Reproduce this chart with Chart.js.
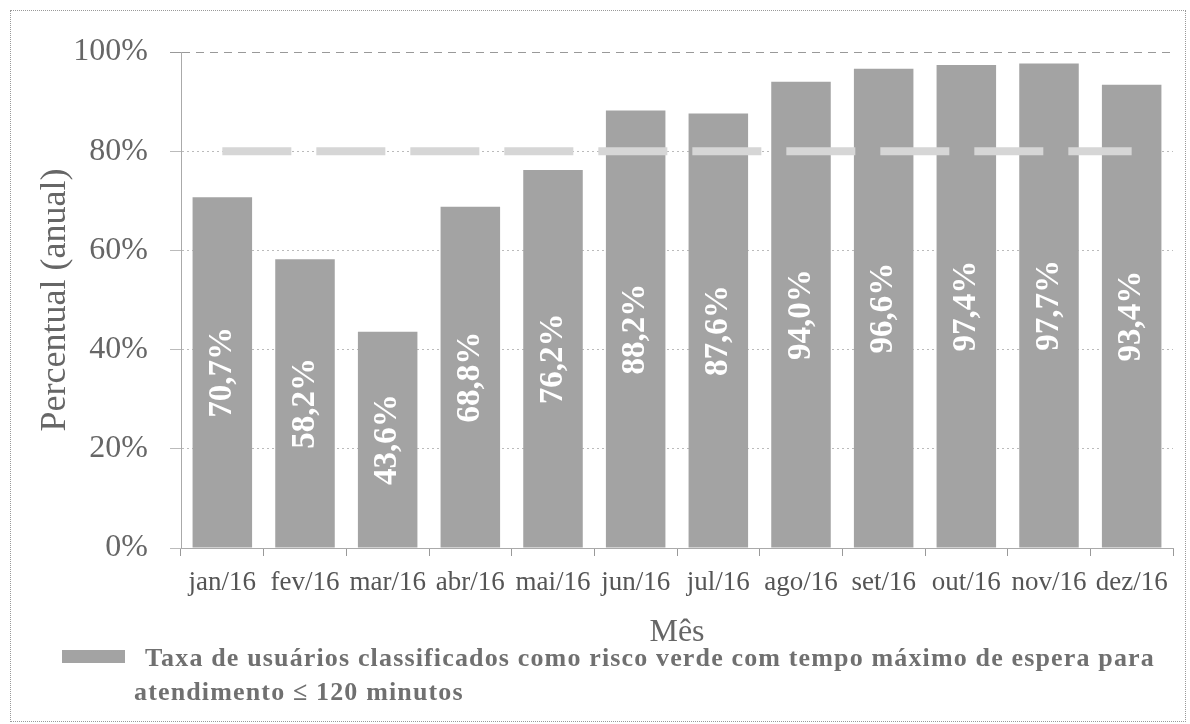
<!DOCTYPE html>
<html lang="pt-BR">
<head>
<meta charset="utf-8">
<title>Taxa de usuários classificados como risco verde</title>
<script src="https://cdn.jsdelivr.net/npm/chart.js@4/dist/chart.umd.min.js"></script>
<style>
  html, body { margin: 0; padding: 0; background: #fff; }
  #quadro { position: relative; width: 1190px; height: 724px; overflow: hidden; }
  #moldura { position: absolute; left: 10px; top: 10px; width: 1174px; height: 710px; border: 1px dotted #999; }
  #grafico { position: absolute; left: 0; top: 0; }
  #caixaLegenda { position: absolute; left: 62px; top: 650px; width: 63px; height: 13px; background: #a3a3a3; }
  #legenda { position: absolute; left: 134px; top: 641px; width: 1050px; text-indent: 11px;
    font: bold 26px "Liberation Serif", serif; line-height: 34px; color: #707070; letter-spacing: 1.15px; }
</style>
</head>
<body>
<div id="quadro">
  <div id="moldura"></div>
  <canvas id="grafico" width="1190" height="724"></canvas>
  <div id="caixaLegenda"></div>
  <div id="legenda"></div>
</div>
<script>
const meses = ["jan/16", "fev/16", "mar/16", "abr/16", "mai/16", "jun/16",
  "jul/16", "ago/16", "set/16", "out/16", "nov/16", "dez/16"];
const taxaVerde = [70.7, 58.2, 43.6, 68.8, 76.2, 88.2, 87.6, 94.0, 96.6, 97.4, 97.7, 93.4];
const meta = [80, 80, 80, 80, 80, 80, 80, 80, 80, 80, 80, 80];
const nomeSerie = "Taxa de usuários classificados como risco verde com tempo máximo de espera para atendimento ≤ 120 minutos";

const corTexto = "#666";
const fonteSerif = '"Liberation Serif", "DejaVu Serif", serif';

// legenda em html porque o texto quebra em duas linhas
const quebra = nomeSerie.indexOf("atendimento");
document.getElementById("legenda").innerHTML =
  nomeSerie.slice(0, quebra).trim() + "<br>" + nomeSerie.slice(quebra);

// rótulos girados no meio de cada barra
const rotuloBarras = {
  id: "rotuloBarras",
  afterDatasetsDraw(chart) {
    const ctx = chart.ctx;
    const barras = chart.getDatasetMeta(1).data;
    ctx.save();
    ctx.font = "bold 33px " + fonteSerif;
    ctx.fillStyle = "#fff";
    ctx.textAlign = "center";
    ctx.textBaseline = "middle";
    barras.forEach((barra, i) => {
      const texto = taxaVerde[i].toFixed(1).replace(".", ",") + "%";
      ctx.save();
      ctx.translate(barra.x, (barra.y + barra.base) / 2);
      ctx.rotate(-Math.PI / 2);
      ctx.fillText(texto, 0, 0);
      ctx.restore();
    });
    ctx.restore();
  }
};

const contexto = document.getElementById("grafico").getContext("2d");
new Chart(contexto, {
  data: {
    labels: meses,
    datasets: [
      {
        type: "line",
        label: "Meta",
        data: meta,
        borderColor: "#d6d6d6",
        borderWidth: 8,
        borderDash: [69, 25],
        borderCapStyle: "butt",
        pointRadius: 0,
        tension: 0,
        order: 0
      },
      {
        type: "bar",
        label: nomeSerie,
        data: taxaVerde,
        backgroundColor: "#a3a3a3",
        categoryPercentage: 1,
        barPercentage: 0.72,
        order: 1
      }
    ]
  },
  options: {
    responsive: false,
    animation: false,
    devicePixelRatio: 1,
    layout: { padding: { left: 14, right: 17, top: 52, bottom: 74 } },
    plugins: {
      legend: { display: false },
      tooltip: { enabled: false }
    },
    scales: {
      x: {
        offset: true,
        grid: { offset: true, drawOnChartArea: false, drawTicks: true, tickLength: 8, color: "#999" },
        border: { color: "#aaa", width: 1 },
        ticks: { color: "#555", font: { family: fonteSerif, size: 27 }, padding: 11, maxRotation: 0, autoSkip: false },
        title: { display: true, text: "Mês", color: corTexto, font: { family: fonteSerif, size: 32, lineHeight: 1 }, padding: { top: 0, bottom: 1 } },
        afterFit(scale) { scale.height = 102; }
      },
      y: {
        min: 0,
        max: 100,
        ticks: { stepSize: 20, color: corTexto, padding: 22, font: { family: fonteSerif, size: 32 },
          callback: (v) => v + "%" },
        grid: {
          tickLength: 11,
          color: (c) => c.tick && c.tick.value === 100 ? "#999" : "#bbb",
          lineWidth: 1
        },
        border: {
          color: "#aaa",
          width: 1,
          dash: (c) => c.tick && c.tick.value === 100 ? [8, 6] : [2, 3]
        },
        title: { display: true, text: "Percentual (anual)", color: corTexto, font: { family: fonteSerif, size: 36, lineHeight: 1 }, padding: { top: 24, bottom: 0 } },
        afterFit(scale) { scale.width = 167; }
      }
    }
  },
  plugins: [rotuloBarras]
});
</script>
</body>
</html>
